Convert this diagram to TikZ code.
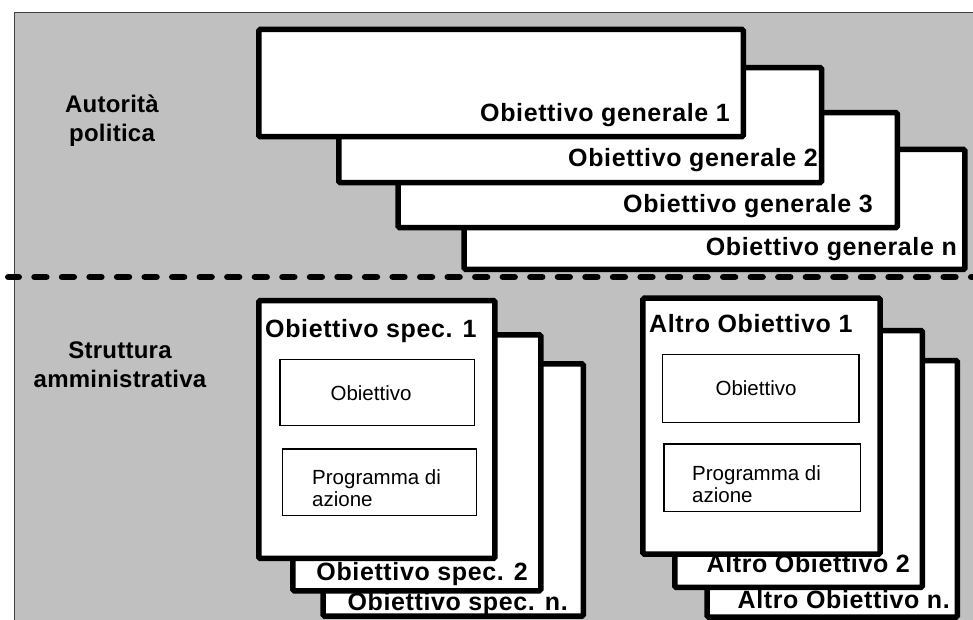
\documentclass[tikz,border=0pt]{standalone}
\usepackage{fontspec}
\setmainfont{Liberation Sans}
\newfontfamily\trackfont{Liberation Sans}[LetterSpace=2.5]
\newfontfamily\sidefont{Liberation Sans}[LetterSpace=1]
\usetikzlibrary{positioning}
\definecolor{panelgray}{HTML}{C0C0C0}

\begin{document}
\begin{tikzpicture}[
    x=1pt, y=-1pt,
    objbox/.style={rectangle, draw=black, fill=white, line width=5.5pt, rounded corners=1.5pt, inner sep=0pt, anchor=north west},
    subbox/.style={rectangle, draw=black, fill=white, line width=1.2pt, inner sep=0pt, anchor=north west},
    boxtitle/.style={inner sep=0pt, font=\trackfont\bfseries\fontsize{25}{28}\selectfont},
    sidetitle/.style={inner sep=0pt, align=center, font=\sidefont\bfseries\fontsize{24}{29}\selectfont},
    plaintext/.style={inner sep=0pt, align=left, font=\fontsize{20.5}{22}\selectfont},
    sepline/.style={line width=6.5pt, line cap=round, dash pattern=on 11.8pt off 15.75pt, dash phase=1.3pt}
]

\useasboundingbox (0,0) rectangle (973,620);
\fill[panelgray] (14,13) rectangle (973,620);
\draw[line width=1pt, black!75] (14,620) |- (973,13);

\node[sidetitle, anchor=base] (authority) at (112,142) {Autorità\\politica};
\node[sidetitle, anchor=base] (structure) at (120,387) {Struttura\\amministrativa};

\node[objbox, minimum width=500.8pt, minimum height=119.9pt] (genN) at (461.4,146.75) {};
\node[boxtitle, anchor=base east] (genNtext) at (957,255) {Obiettivo generale n};
\node[objbox, minimum width=499.2pt, minimum height=114.9pt] (gen3) at (395.4,110) {};
\node[boxtitle, anchor=base east] (gen3text) at (873,212) {Obiettivo generale 3};
\node[objbox, minimum width=482.9pt, minimum height=114.9pt] (gen2) at (336,65) {};
\node[boxtitle, anchor=base east] (gen2text) at (818,167) {Obiettivo generale 2};
\node[objbox, minimum width=484.6pt, minimum height=107.2pt] (gen1) at (256,26.75) {};
\node[boxtitle, anchor=base east] (gen1text) at (730,121.5) {Obiettivo generale 1};

\coordinate (sepstart) at (8.25,277);
\coordinate (sepend) at (973,277);
\draw[sepline] (sepstart) -- (sepend);

\node[objbox, minimum width=260.2pt, minimum height=252.3pt] (specN) at (320.4,361) {};
\node[boxtitle, anchor=base east] (specNtext) at (568,610.5) {Obiettivo spec. n.};
\node[objbox, minimum width=248pt, minimum height=256pt] (spec2) at (290,332) {};
\node[boxtitle, anchor=base east] (spec2text) at (528,580.5) {Obiettivo spec. 2};
\node[objbox, minimum width=236.2pt, minimum height=257.9pt] (spec1) at (256,297.75) {};
\node[boxtitle, anchor=base west] (spec1text) at (265,337) {Obiettivo spec. 1};
\node[subbox, minimum width=194.7pt, minimum height=66pt] (specobj) at (279.3,359) {};
\node[plaintext, anchor=base] (specobjtext) at (371,400) {Obiettivo};
\node[subbox, minimum width=194pt, minimum height=66.7pt] (specprog) at (281.7,448.3) {};
\node[plaintext, anchor=base west] (specprogtext) at (312,506) {Programma di\\azione};

\node[objbox, minimum width=250.3pt, minimum height=256.6pt] (altroN) at (704.4,357.75) {};
\node[boxtitle, anchor=base east] (altroNtext) at (950,608.5) {Altro Obiettivo n.};
\node[objbox, minimum width=247.6pt, minimum height=256.9pt] (altro2) at (672,327.75) {};
\node[boxtitle, anchor=base east] (altro2text) at (910,572.5) {Altro Obiettivo 2};
\node[objbox, minimum width=237.3pt, minimum height=255.9pt] (altro1) at (640,295.4) {};
\node[boxtitle, anchor=base west] (altro1text) at (649,332) {Altro Obiettivo 1};
\node[subbox, minimum width=196.7pt, minimum height=67.7pt] (altroobj) at (661.7,354) {};
\node[plaintext, anchor=base] (altroobjtext) at (756,395) {Obiettivo};
\node[subbox, minimum width=196.7pt, minimum height=67.7pt] (altroprog) at (663.3,443.3) {};
\node[plaintext, anchor=base west] (altroprogtext) at (692,502) {Programma di\\azione};

\end{tikzpicture}
\end{document}
